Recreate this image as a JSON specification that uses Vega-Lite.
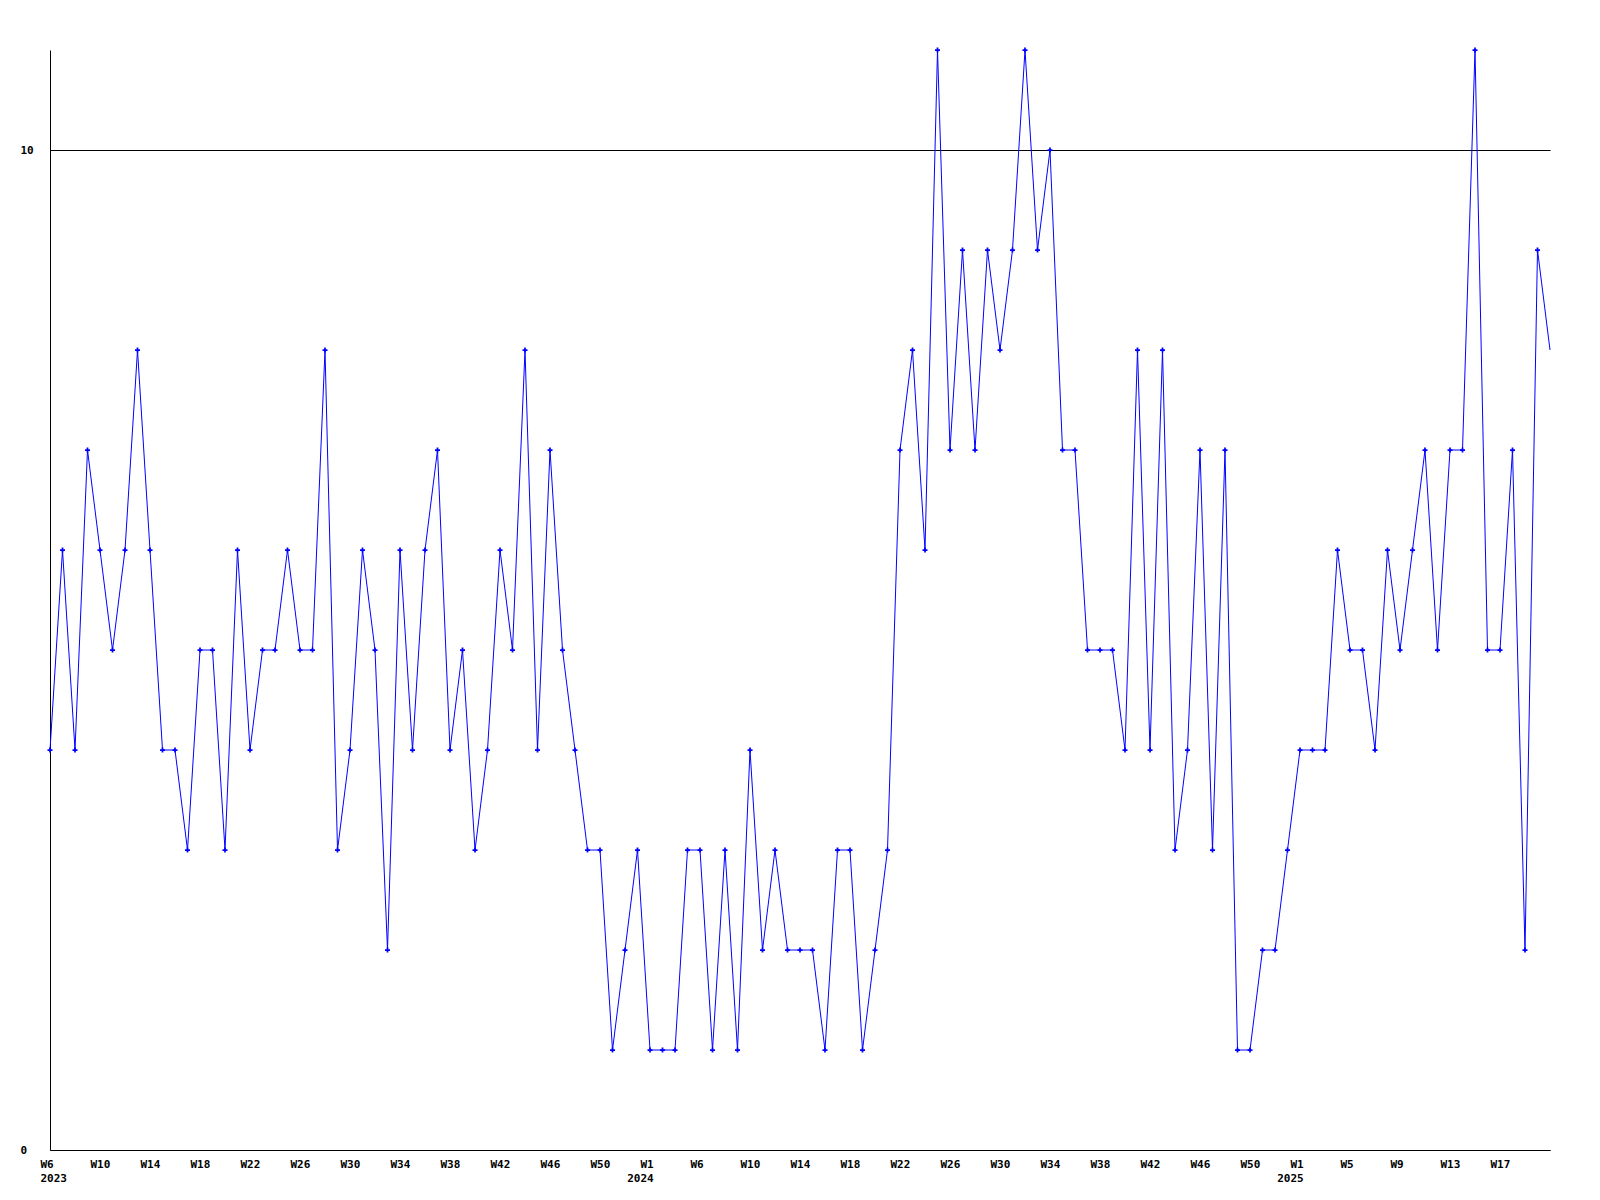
{
  "$schema": "https://vega.github.io/schema/vega-lite/v6.json",
  "autosize": {"type": "none"},
  "width": 1500,
  "height": 1100,
  "padding": {"left": 50, "top": 50, "right": 50, "bottom": 50},
  "background": "white",
  "config": {
    "view": {"stroke": null},
    "axis": {"labelFont": "DejaVu Sans Mono", "labelFontWeight": "bold", "labelFontSize": 11, "labelColor": "black", "domainColor": "black", "domainWidth": 1, "title": null}
  },
  "data": {"values": [
    {"i":0,"v":4},{"i":1,"v":6},{"i":2,"v":4},{"i":3,"v":7},{"i":4,"v":6},{"i":5,"v":5},{"i":6,"v":6},{"i":7,"v":8},{"i":8,"v":6},{"i":9,"v":4},
    {"i":10,"v":4},{"i":11,"v":3},{"i":12,"v":5},{"i":13,"v":5},{"i":14,"v":3},{"i":15,"v":6},{"i":16,"v":4},{"i":17,"v":5},{"i":18,"v":5},{"i":19,"v":6},
    {"i":20,"v":5},{"i":21,"v":5},{"i":22,"v":8},{"i":23,"v":3},{"i":24,"v":4},{"i":25,"v":6},{"i":26,"v":5},{"i":27,"v":2},{"i":28,"v":6},{"i":29,"v":4},
    {"i":30,"v":6},{"i":31,"v":7},{"i":32,"v":4},{"i":33,"v":5},{"i":34,"v":3},{"i":35,"v":4},{"i":36,"v":6},{"i":37,"v":5},{"i":38,"v":8},{"i":39,"v":4},
    {"i":40,"v":7},{"i":41,"v":5},{"i":42,"v":4},{"i":43,"v":3},{"i":44,"v":3},{"i":45,"v":1},{"i":46,"v":2},{"i":47,"v":3},{"i":48,"v":1},{"i":49,"v":1},
    {"i":50,"v":1},{"i":51,"v":3},{"i":52,"v":3},{"i":53,"v":1},{"i":54,"v":3},{"i":55,"v":1},{"i":56,"v":4},{"i":57,"v":2},{"i":58,"v":3},{"i":59,"v":2},
    {"i":60,"v":2},{"i":61,"v":2},{"i":62,"v":1},{"i":63,"v":3},{"i":64,"v":3},{"i":65,"v":1},{"i":66,"v":2},{"i":67,"v":3},{"i":68,"v":7},{"i":69,"v":8},
    {"i":70,"v":6},{"i":71,"v":11},{"i":72,"v":7},{"i":73,"v":9},{"i":74,"v":7},{"i":75,"v":9},{"i":76,"v":8},{"i":77,"v":9},{"i":78,"v":11},{"i":79,"v":9},
    {"i":80,"v":10},{"i":81,"v":7},{"i":82,"v":7},{"i":83,"v":5},{"i":84,"v":5},{"i":85,"v":5},{"i":86,"v":4},{"i":87,"v":8},{"i":88,"v":4},{"i":89,"v":8},
    {"i":90,"v":3},{"i":91,"v":4},{"i":92,"v":7},{"i":93,"v":3},{"i":94,"v":7},{"i":95,"v":1},{"i":96,"v":1},{"i":97,"v":2},{"i":98,"v":2},{"i":99,"v":3},
    {"i":100,"v":4},{"i":101,"v":4},{"i":102,"v":4},{"i":103,"v":6},{"i":104,"v":5},{"i":105,"v":5},{"i":106,"v":4},{"i":107,"v":6},{"i":108,"v":5},{"i":109,"v":6},
    {"i":110,"v":7},{"i":111,"v":5},{"i":112,"v":7},{"i":113,"v":7},{"i":114,"v":11},{"i":115,"v":5},{"i":116,"v":5},{"i":117,"v":7},{"i":118,"v":2},{"i":119,"v":9},
    {"i":120,"v":8}
  ]},
  "resolve": {"axis": {"x": "independent"}},
  "layer": [
    {
      "mark": {"type": "line", "color": "#0000ff", "strokeWidth": 1},
      "encoding": {
        "x": {"field": "i", "type": "quantitative", "scale": {"domain": [0, 120], "nice": false, "zero": false},
          "axis": {"orient": "bottom", "values": [0,4,8,12,16,20,24,28,32,36,40,44,48,52,56,60,64,68,72,76,80,84,88,92,96,100,104,108,112,116],
            "labelExpr": "['W6','W10','W14','W18','W22','W26','W30','W34','W38','W42','W46','W50','W1','W6','W10','W14','W18','W22','W26','W30','W34','W38','W42','W46','W50','W1','W5','W9','W13','W17'][round(datum.value/4)]",
            "ticks": false, "grid": false, "labelAlign": "left", "labelBaseline": "top", "labelOffset": -10, "labelPadding": 8, "labelFlush": false, "labelOverlap": false}},
        "y": {"field": "v", "type": "quantitative", "scale": {"domain": [0, 11], "nice": false},
          "axis": {"values": [0, 10], "format": "d", "ticks": false, "grid": true, "gridColor": "black", "gridOpacity": 1, "gridWidth": 1,
            "labelAlign": "left", "labelBaseline": "middle", "labelPadding": 30}}
      }
    },
    {
      "transform": [{"filter": "datum.i < 120"}],
      "mark": {"type": "point", "filled": true, "color": "#0000ff", "opacity": 1, "size": 25,
        "shape": "M-1,-0.35H-0.35V-1H0.35V-0.35H1V0.35H0.35V1H-0.35V0.35H-1Z"},
      "encoding": {
        "x": {"field": "i", "type": "quantitative",
          "axis": {"orient": "bottom", "values": [0, 48, 100], "domain": false, "ticks": false, "grid": false,
            "labelExpr": "datum.value == 0 ? '2023' : datum.value == 48 ? '2024' : '2025'",
            "labelAlign": {"expr": "datum.value == 0 ? 'left' : 'center'"}, "labelBaseline": "top", "labelOffset": -10, "labelPadding": 22, "labelFlush": false, "labelOverlap": false}},
        "y": {"field": "v", "type": "quantitative"}
      }
    }
  ]
}
